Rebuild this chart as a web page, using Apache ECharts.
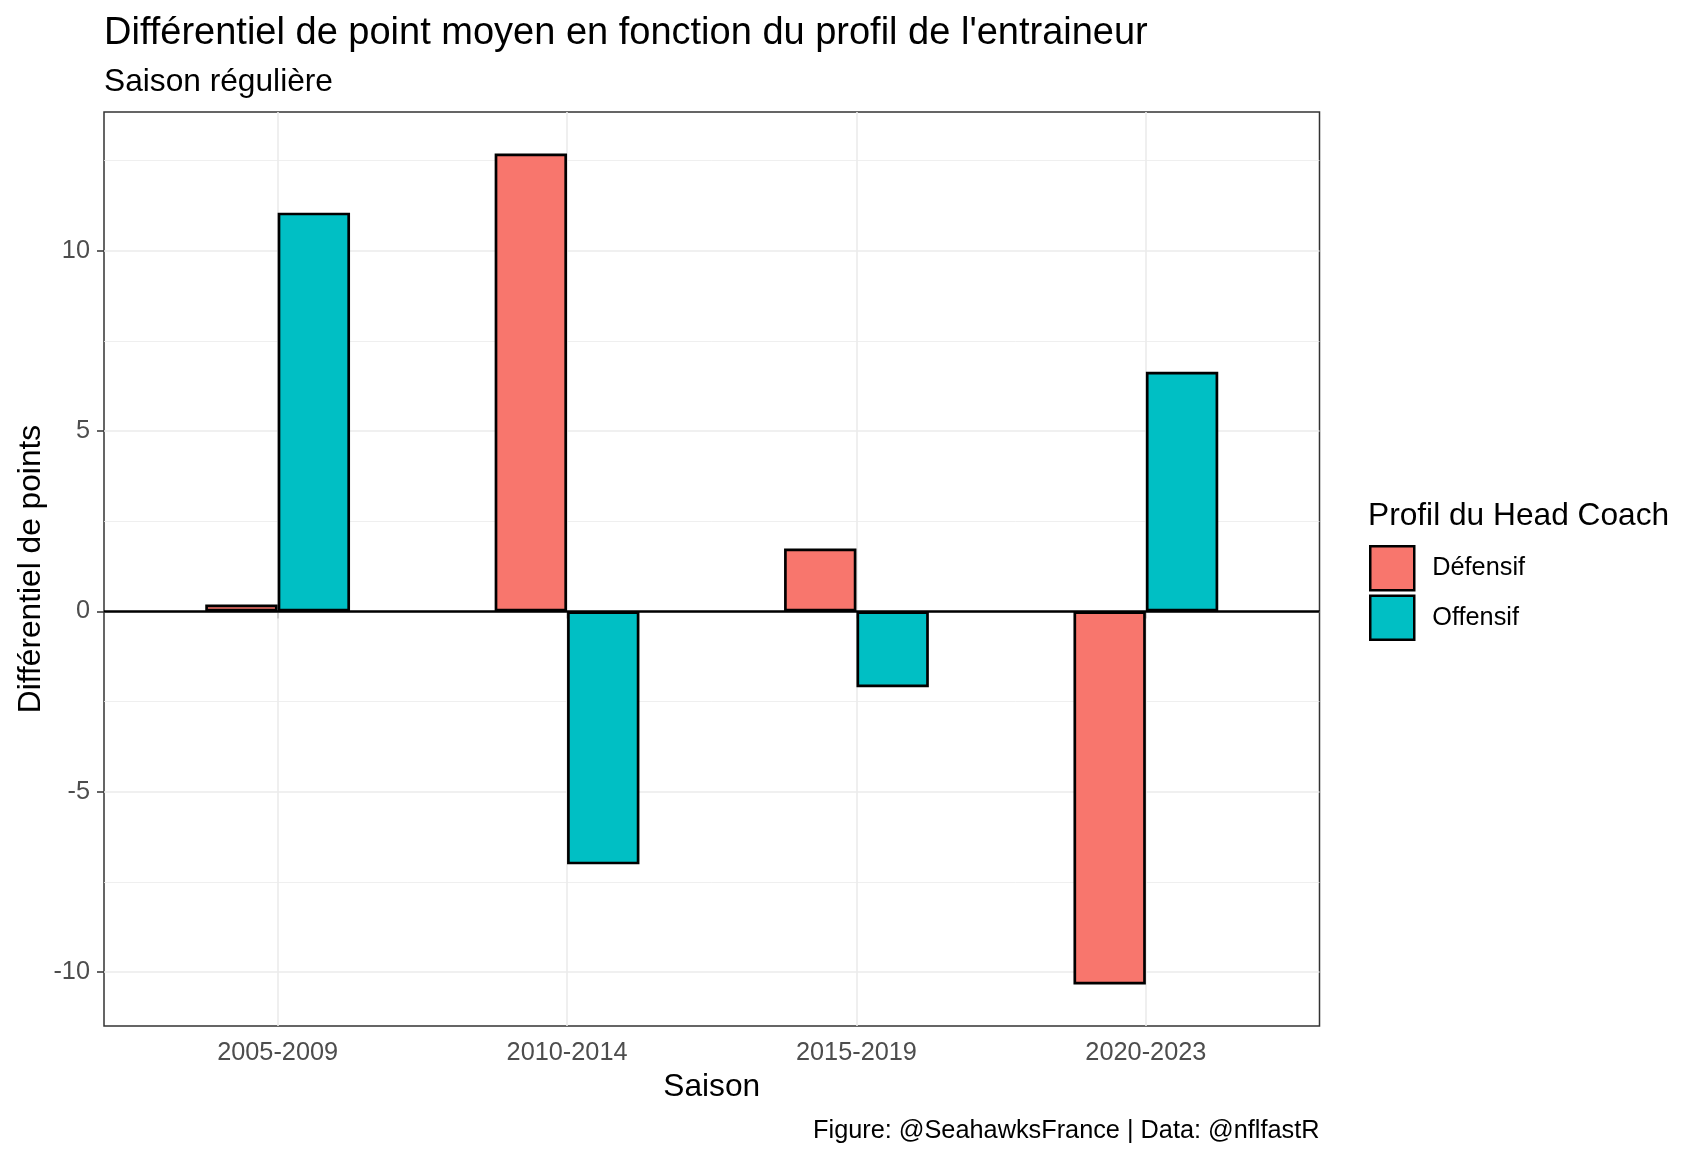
<!DOCTYPE html>
<html><head><meta charset="utf-8">
<script src="https://cdn.jsdelivr.net/npm/echarts@6/dist/echarts.min.js"></script>
<style>html,body{margin:0;padding:0;background:#fff}#c{width:1700px;height:1158px}</style>
</head><body><div id="c"></div>
<script>
const seasons = ['2005-2009', '2010-2014', '2015-2019', '2020-2023'];
const seriesNames = ['Défensif', 'Offensif'];
const defensif = [0.19, 12.69, 1.74, -10.34];
const offensif = [11.05, -7.01, -2.10, 6.64];
const yTicks = [-10, -5, 0, 5, 10];
const yMinor = [-7.5, -2.5, 2.5, 7.5, 12.5];
const xTicks = [1, 2, 3, 4];

const FONT = '"Liberation Sans", Arial, Helvetica, sans-serif';
const chart = echarts.init(document.getElementById('c'), null, {renderer: 'canvas'});

const gridLines = [];
yTicks.forEach(v => gridLines.push({yAxis: v, lineStyle: {color: '#EBEBEB', width: 1.6, type: 'solid'}}));
yMinor.forEach(v => gridLines.push({yAxis: v, lineStyle: {color: '#EBEBEB', width: 0.8, type: 'solid'}}));
xTicks.forEach(v => gridLines.push({xAxis: v, lineStyle: {color: '#EBEBEB', width: 1.6, type: 'solid'}}));

function txt(text, x, y, size, opts) {
  return Object.assign({
    type: 'text', x: x, y: y, silent: true,
    style: Object.assign({
      text: text, fontSize: size, fontFamily: FONT, fill: '#000',
      align: 'left', verticalAlign: 'middle'
    }, (opts && opts.style) || {})
  }, (opts && opts.el) || {});
}

const option = {
  animation: false,
  backgroundColor: '#fff',
  grid: {left: 104, top: 112, width: 1215.5, height: 914, show: true,
         borderColor: '#333333', borderWidth: 1.5, backgroundColor: '#fff'},
  xAxis: {
    type: 'value', min: 0.4, max: 4.6,
    splitLine: {show: false}, axisLine: {show: false},
    axisTick: {show: true, customValues: xTicks, length: 7, lineStyle: {color: '#333333', width: 1.5}},
    axisLabel: {customValues: xTicks, formatter: v => seasons[Math.round(v) - 1],
                fontSize: 25.3, fontFamily: FONT, color: '#4D4D4D', margin: 27, verticalAlign: 'middle'}
  },
  yAxis: {
    type: 'value', min: -11.49, max: 13.84,
    splitLine: {show: false}, axisLine: {show: false},
    axisTick: {show: true, customValues: yTicks, length: 7, lineStyle: {color: '#333333', width: 1.5}},
    axisLabel: {customValues: yTicks, fontSize: 25.3, fontFamily: FONT, color: '#4D4D4D', margin: 14}
  },
  legend: {
    data: seriesNames, orient: 'vertical', left: 1369, top: 545,
    itemWidth: 44, itemHeight: 44, itemGap: 3, icon: 'rect', padding: 0,
    selectedMode: false,
    itemStyle: {borderColor: '#000', borderWidth: 2.5},
    textStyle: {fontSize: 25.3, fontFamily: FONT, color: '#000', padding: [3, 0, 0, 13]}
  },
  series: [
    {type: 'line', data: [], z: 1, silent: true,
     markLine: {z: 1, silent: true, symbol: ['none', 'none'], label: {show: false}, animation: false,
                emphasis: {disabled: true}, data: gridLines}},
    {type: 'bar', name: seriesNames[0], data: defensif.map((v, i) => [i + 1, v]),
     barWidth: 72.4, barGap: '0%', z: 2,
     itemStyle: {color: '#F8766D', borderColor: '#000', borderWidth: 2.7}},
    {type: 'bar', name: seriesNames[1], data: offensif.map((v, i) => [i + 1, v]),
     barWidth: 72.4, barGap: '0%', z: 2,
     itemStyle: {color: '#00BFC4', borderColor: '#000', borderWidth: 2.7}},
    {type: 'line', data: [], z: 6, silent: true,
     markLine: {z: 6, silent: true, symbol: ['none', 'none'], label: {show: false}, animation: false,
                emphasis: {disabled: true},
                data: [{yAxis: 0}], lineStyle: {color: '#000', width: 2.6, type: 'solid'}}}
  ],
  graphic: [
    txt("Différentiel de point moyen en fonction du profil de l'entraineur", 104, 34, 38),
    txt('Saison régulière', 104, 82, 31.7),
    txt('Différentiel de points', 31, 569, 31.7, {el: {rotation: Math.PI / 2}, style: {align: 'center'}}),
    txt('Saison', 711.75, 1087.5, 31.7, {style: {align: 'center'}}),
    txt('Figure: @SeahawksFrance | Data: @nflfastR', 1319.5, 1131, 25.3, {style: {align: 'right'}}),
    txt('Profil du Head Coach', 1368, 516.5, 31.7)
  ]
};
chart.setOption(option);
</script>
</body></html>
